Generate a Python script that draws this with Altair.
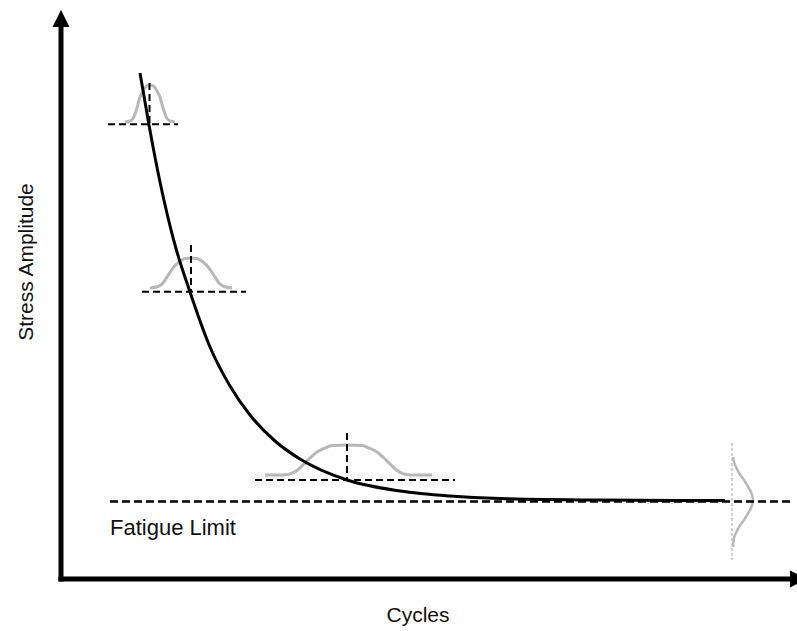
import altair as alt
import pandas as pd

# Coordinate frame: origin at the corner of the two axes (units ~ screen pixels)
# --- S-N curve ---
curve_x = [79, 88, 99, 114, 129, 149, 169, 189, 214, 239, 286, 339, 389, 439, 539, 664]
curve_y = [506, 454, 397, 334, 287, 232, 193, 164, 138, 120, 99, 88, 83, 80.5, 79, 78.5]

# --- scatter distributions (grey bells) ---
bell1_x = [64, 69, 72, 76, 79, 82, 85, 89, 93, 96, 99, 102, 106, 109, 114]
bell1_y = [457, 458, 460.5, 471, 482, 488, 492.5, 494, 492.5, 488, 482, 471, 460.5, 458, 457]
bell2_x = [89, 97, 102, 107, 112, 118, 124, 130, 136, 142, 148, 153, 158, 163, 171]
bell2_y = [291, 292.5, 296, 303.5, 311, 317, 320.5, 321, 320.5, 317, 311, 303.5, 296, 292.5, 291]
bell3_x = [204, 221, 229, 236, 242, 248, 256, 264, 271, 286, 301, 308, 316, 324, 330, 336, 343, 351, 371]
bell3_y = [104, 104, 105, 108.5, 114, 120, 127, 131, 133.5, 134, 133.5, 131, 127, 120, 114, 108.5, 105, 104, 104]
bell4_x = [672, 673, 675, 678, 683, 686, 690, 692, 690, 686, 683, 678, 675, 673, 672]
bell4_y = [122, 117, 112, 106, 99, 94, 87, 79, 71, 64, 59, 52, 46, 41, 32]

# --- dashed guide segments (x, x2, y, y2) ---
guide_x = [47, 81, 194, 88.5, 130, 286]
guide_x2 = [117, 185, 394, 88.5, 130, 286]
guide_y = [454.7, 287.3, 99, 496, 334, 146]
guide_y2 = [454.7, 287.3, 99, 452, 287.3, 99]

# fatigue limit line
limit_x, limit_x2, limit_y = [49], [729], [77.5]

# grey dotted line through the last distribution
dot_x = [671]
dot_y = [136]
dot_y2 = [19]

# axes (shafts) and arrowheads
axis_x = [0, 0]
axis_x2 = [0, 729]
axis_y = [0, 0]
axis_y2 = [553, 0]
arrow_up_x, arrow_up_y = [0], [560.5]
arrow_right_x, arrow_right_y = [737.5], [0]

# labels
label_text = ["Fatigue Limit", "Cycles"]
label_x = [49, 357]
label_y = [44, -43]
label_align = ["left", "center"]
ylab_text, ylab_x, ylab_y = ["Stress Amplitude"], [-28], [317]

X_DOMAIN = [-61, 736]
Y_DOMAIN = [-52, 579]


def xe(f="x"):
    return alt.X(f"{f}:Q", scale=alt.Scale(domain=X_DOMAIN, nice=False, zero=False), axis=None)


def ye(f="y"):
    return alt.Y(f"{f}:Q", scale=alt.Scale(domain=Y_DOMAIN, nice=False, zero=False), axis=None)


bells_df = pd.concat([
    pd.DataFrame({"bell": "b1", "x": bell1_x, "y": bell1_y}),
    pd.DataFrame({"bell": "b2", "x": bell2_x, "y": bell2_y}),
    pd.DataFrame({"bell": "b3", "x": bell3_x, "y": bell3_y}),
])
bells = alt.Chart(bells_df).mark_line(
    color="#b8b8b8", strokeWidth=3, interpolate="monotone"
).encode(x=xe(), y=ye(), detail="bell:N")

bell4_df = pd.DataFrame({"i": list(range(len(bell4_x))), "x": bell4_x, "y": bell4_y})
bell4 = alt.Chart(bell4_df).mark_line(
    color="#b8b8b8", strokeWidth=2.5, interpolate="catmull-rom"
).encode(x=xe(), y=ye(), order="i:Q")

dot_df = pd.DataFrame({"x": dot_x, "y": dot_y, "y2": dot_y2})
dotted = alt.Chart(dot_df).mark_rule(
    color="#c4c4c4", strokeWidth=1.5, strokeDash=[3, 2]
).encode(x=xe(), y=ye(), y2="y2:Q")

guide_df = pd.DataFrame({"x": guide_x, "x2": guide_x2, "y": guide_y, "y2": guide_y2})
guides = alt.Chart(guide_df).mark_rule(
    color="black", strokeWidth=2, strokeDash=[7, 4]
).encode(x=xe(), x2="x2:Q", y=ye(), y2="y2:Q")

limit_df = pd.DataFrame({"x": limit_x, "x2": limit_x2, "y": limit_y})
limit = alt.Chart(limit_df).mark_rule(
    color="black", strokeWidth=2.6, strokeDash=[8, 4]
).encode(x=xe(), x2="x2:Q", y=ye())

curve_df = pd.DataFrame({"x": curve_x, "y": curve_y})
curve = alt.Chart(curve_df).mark_line(
    color="black", strokeWidth=3, interpolate="monotone"
).encode(x=xe(), y=ye())

axis_df = pd.DataFrame({"x": axis_x, "x2": axis_x2, "y": axis_y, "y2": axis_y2})
axes = alt.Chart(axis_df).mark_rule(
    color="black", strokeWidth=5, strokeCap="square"
).encode(x=xe(), x2="x2:Q", y=ye(), y2="y2:Q")

up_df = pd.DataFrame({"x": arrow_up_x, "y": arrow_up_y})
arrow_up = alt.Chart(up_df).mark_point(
    shape="M0,-1L1,1L-1,1Z", filled=True, color="black", opacity=1, size=289, strokeWidth=0
).encode(x=xe(), y=ye())

right_df = pd.DataFrame({"x": arrow_right_x, "y": arrow_right_y})
arrow_right = alt.Chart(right_df).mark_point(
    shape="M1,0L-1,-1L-1,1Z", filled=True, color="black", opacity=1, size=289, strokeWidth=0
).encode(x=xe(), y=ye())

lab_df = pd.DataFrame({"t": label_text, "x": label_x, "y": label_y, "a": label_align})
lab_left = alt.Chart(lab_df[lab_df["a"] == "left"]).mark_text(
    font="Liberation Sans", fontSize=22, color="#111111", align="left", baseline="alphabetic"
).encode(x=xe(), y=ye(), text="t:N")
lab_center = alt.Chart(lab_df[lab_df["a"] == "center"]).mark_text(
    font="Liberation Sans", fontSize=21, color="#111111", align="center", baseline="alphabetic"
).encode(x=xe(), y=ye(), text="t:N")

ylab_df = pd.DataFrame({"t": ylab_text, "x": ylab_x, "y": ylab_y})
ylab = alt.Chart(ylab_df).mark_text(
    font="Liberation Sans", fontSize=21, color="#111111", align="center",
    baseline="alphabetic", angle=270
).encode(x=xe(), y=ye(), text="t:N")

chart = alt.layer(
    bells, bell4, dotted, guides, limit, curve, axes, arrow_up, arrow_right,
    lab_left, lab_center, ylab
).properties(
    width=797, height=631, padding=0, autosize=alt.AutoSizeParams(type="none"),
    background="white"
).configure_view(stroke=None)

chart.save("out.html", embed_options={"renderer": "svg", "actions": False})
